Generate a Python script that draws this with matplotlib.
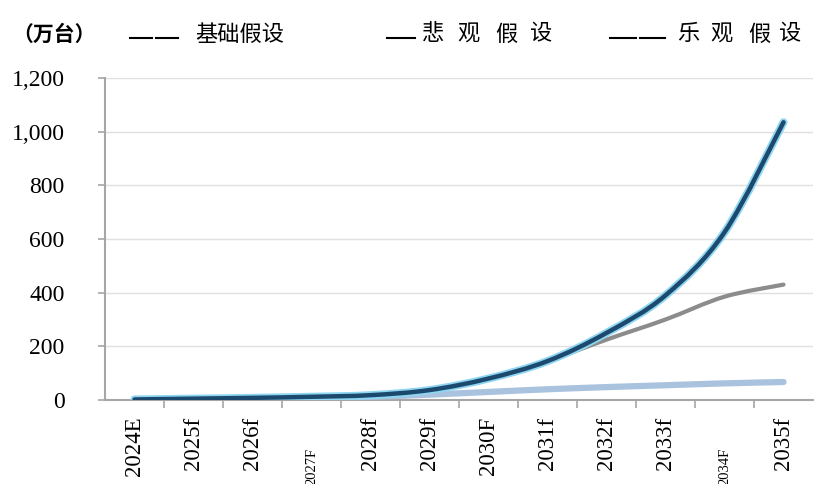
import matplotlib
matplotlib.use("Agg")
import matplotlib.pyplot as plt
import matplotlib.patheffects as pe
from matplotlib.lines import Line2D
from matplotlib.path import Path
from matplotlib.patches import PathPatch
from matplotlib.transforms import blended_transform_factory
import numpy as np

# Forecast of annual volume (万台), three scenarios
years = ["2024E", "2025f", "2026f", "2027F", "2028f", "2029f",
         "2030F", "2031f", "2032f", "2033f", "2034F", "2035f"]
optimistic = [2, 5, 8, 12, 18, 37, 80, 145, 250, 390, 625, 1035]
base = [2, 5, 8, 12, 18, 37, 80, 145, 225, 300, 385, 430]
pessimistic = [2, 4, 6, 9, 12, 20, 30, 40, 48, 55, 62, 67]
small_labels = {"2027F", "2034F"}

yticks = [0, 200, 400, 600, 800, 1000, 1200]
ytick_labels = ["0", "200", "400", "600", "800", "1,000", "1,200"]


def smooth_path(xs, ys):
    """Smoothed line through every data point (cubic Bezier segments)."""
    p = np.column_stack([xs, ys]).astype(float)
    ext = np.vstack([p[0], p, p[-1]])
    verts = [p[0]]
    codes = [Path.MOVETO]
    for i in range(len(p) - 1):
        p0, p1, p2, p3 = ext[i], ext[i + 1], ext[i + 2], ext[i + 3]
        c1 = p1 + (p2 - p0) / 6.0
        c2 = p2 - (p3 - p1) / 6.0
        verts += [c1, c2, p2]
        codes += [Path.CURVE4] * 3
    return Path(verts, codes)


def draw_series(ax, values, **kw):
    patch = PathPatch(smooth_path(np.arange(len(values)), values), fill=False,
                      capstyle="round", joinstyle="round", **kw)
    ax.add_patch(patch)
    return patch


W, H = 814, 484
fig = plt.figure(figsize=(W / 100, H / 100), dpi=100)
ax = fig.add_axes([105 / W, 1 - 400 / H, (813 - 105) / W, (400 - 78) / H])

x = np.arange(len(years))
draw_series(ax, pessimistic, edgecolor="#a9c3de", lw=4.5, zorder=3)
draw_series(ax, base, edgecolor="#8c8c8c", lw=3.0, zorder=4)
draw_series(ax, optimistic, edgecolor="#1c4a6e", lw=3.2, zorder=5,
            path_effects=[pe.Stroke(linewidth=5.8, foreground="#8fd6f2"), pe.Normal()])

ax.set_xlim(-0.5, len(years) - 0.5)
ax.set_ylim(0, 1200)

serif = "Liberation Serif"
gray = "#a6a6a6"

ax.set_yticks(yticks)
ax.set_yticklabels(ytick_labels, fontfamily=serif, fontsize=17)
ax.tick_params(axis="y", length=5, width=1.2, color=gray, pad=24)
ax.yaxis.grid(True, color="#e0e0e0", lw=1.0)
ax.set_axisbelow(True)

ax.set_xticks(x)
ax.set_xticklabels([("" if y in small_labels else y) for y in years],
                   rotation=90, fontfamily=serif, fontsize=16.5, va="top")
ax.tick_params(axis="x", which="major", length=0, pad=12)
ax.set_xticks(np.arange(0.5, len(years) - 1, 1), minor=True)
ax.tick_params(axis="x", which="minor", length=6, width=1.2, color=gray)

trans = blended_transform_factory(ax.transData, ax.transAxes)
for i, y in enumerate(years):
    if y in small_labels:
        ax.text(i, -48 / 322, y, rotation=90, fontfamily=serif, fontsize=10.5,
                ha="center", va="top", transform=trans)

for s in ["top", "right"]:
    ax.spines[s].set_visible(False)
for s in ["left", "bottom"]:
    ax.spines[s].set_color(gray)
    ax.spines[s].set_linewidth(1.5)

# Header: unit and scenario key
cjk = ["Noto Sans CJK SC", "DejaVu Sans"]
ty = 1 - 34 / H
fig.text(12 / W, ty, "（万台）", fontfamily=cjk, fontsize=15, fontweight="bold",
         ha="left", va="center")


def dash(x0, x1):
    fig.add_artist(Line2D([x0 / W, x1 / W], [1 - 38 / H] * 2, color="black",
                          lw=1.5, transform=fig.transFigure))


dash(130, 152)
dash(156, 178)
fig.text(195 / W, ty, "基础假设", fontfamily=cjk, fontsize=16, ha="left", va="center")

dash(387, 415)
for cx, ch in zip([433, 468, 506, 540], "悲观假设"):
    fig.text(cx / W, ty, ch, fontfamily=cjk, fontsize=16, ha="center", va="center")

dash(610, 636)
dash(640, 665)
for cx, ch in zip([688, 721, 759, 789], "乐观假设"):
    fig.text(cx / W, ty, ch, fontfamily=cjk, fontsize=16, ha="center", va="center")

fig.savefig("out.png", dpi=100)
